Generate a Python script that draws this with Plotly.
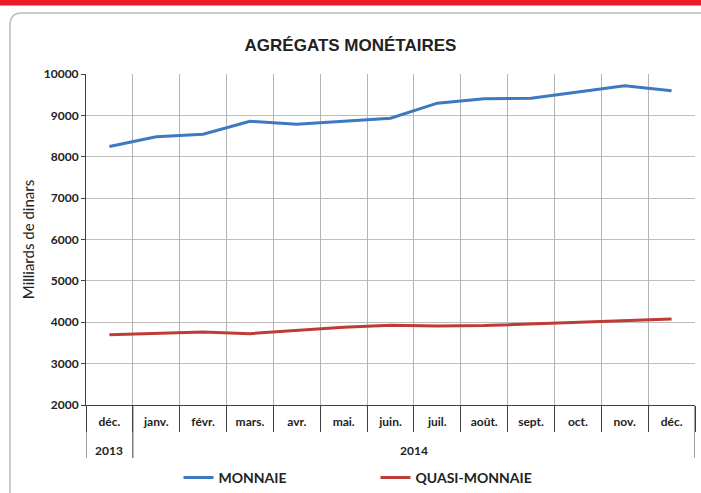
import plotly.graph_objects as go

months = ["déc.", "janv.", "févr.", "mars.", "avr.", "mai.", "juin.", "juil.", "août.", "sept.", "oct.", "nov.", "déc."]
years = ["2013", "2014"]
monnaie = [8250, 8485, 8545, 8855, 8785, 8850, 8930, 9295, 9400, 9415, 9565, 9715, 9595]
quasi_monnaie = [3700, 3730, 3765, 3725, 3800, 3880, 3925, 3910, 3920, 3960, 3995, 4035, 4080]

x = list(range(len(months)))
L, R, T, B = 86, 695, 74, 405
W, H = 701, 493

def px(xp):
    return (xp - L) / (R - L)

def py(yp):
    return (B - yp) / (B - T)

fig = go.Figure()
fig.add_trace(go.Scatter(x=x, y=monnaie, mode="lines", name="MONNAIE",
                         line=dict(color="#3D78C1", width=3)))
fig.add_trace(go.Scatter(x=x, y=quasi_monnaie, mode="lines", name="QUASI-MONNAIE",
                         line=dict(color="#BF3B36", width=3)))
# invisible helper trace so the boundary axis (x2) is drawn
fig.add_trace(go.Scatter(x=[-0.5, 12.5], y=[None, None], xaxis="x2", yaxis="y",
                         showlegend=False, hoverinfo="skip", mode="lines"))

tickfont = dict(family="Lato, Open Sans, sans-serif", size=12, color="#222222", weight="bold")
legfont = dict(family="Lato, Open Sans, sans-serif", size=14, color="#222222", weight="bold")

fig.update_layout(
    width=W, height=H,
    margin=dict(l=L, r=W - R, t=T, b=H - B, autoexpand=False),
    paper_bgcolor="white", plot_bgcolor="white",
    title=dict(text="AGRÉGATS MONÉTAIRES", x=0.5, xanchor="center", xref="container",
               y=1 - 45 / H, yanchor="middle", yref="container",
               font=dict(family="Liberation Sans, Arial, sans-serif", size=17, color="#222222", weight="bold")),
    showlegend=True,
    legend=dict(orientation="h", x=0.5 - 15 / (R - L), xanchor="center", y=py(478), yanchor="middle",
                font=legfont, entrywidth=152, itemwidth=30, bgcolor="rgba(0,0,0,0)",
                tracegroupgap=0),
    xaxis=dict(range=[-0.5, 12.5], tickvals=x, ticktext=months, ticks="", showgrid=False,
               showline=True, linecolor="#404040", linewidth=1, tickfont=tickfont,
               ticklabelstandoff=6, zeroline=False, automargin=False),
    xaxis2=dict(overlaying="x", anchor="y", side="bottom", range=[-0.5, 12.5],
                tickmode="array", tickvals=[i - 0.5 for i in range(len(months) + 1)],
                ticktext=["" for _ in range(len(months) + 1)],
                ticks="outside", ticklen=26, tickcolor="#404040", tickwidth=1,
                showgrid=True, gridcolor="#B5B5B5", gridwidth=1, showline=False, zeroline=False,
                automargin=False),
    yaxis=dict(range=[2000, 10000], dtick=1000, tickformat="d", showgrid=True, gridcolor="#BDBDBD", gridwidth=1,
               showline=True, linecolor="#404040", linewidth=1, ticks="outside", ticklen=4,
               tickcolor="#404040", tickfont=tickfont, zeroline=False, automargin=False,
               title=dict(text="Milliards de dinars", standoff=5,
                          font=dict(family="Lato, Open Sans, sans-serif", size=15, color="#222222"))),
)

# Year row
fig.add_annotation(x=0, y=py(450), xref="x", yref="paper", text=years[0], showarrow=False,
                   font=tickfont, yanchor="middle")
fig.add_annotation(x=6.5, y=py(450), xref="x", yref="paper", text=years[1], showarrow=False,
                   font=tickfont, yanchor="middle")
for bx in [-0.5, 0.5, 12.5]:
    fig.add_shape(type="line", x0=bx, x1=bx, xref="x", yref="paper", y0=0, y1=py(458),
                  line=dict(color="#404040", width=1))

# Chart frame with rounded corner
fx0, fy0, fx1, fy1, r = px(10), py(13), px(730), py(520), 12
path = (f"M {fx0},{fy1} L {fx0},{py(13 + r)} Q {fx0},{fy0} {px(10 + r)},{fy0} "
        f"L {fx1},{fy0}")
fig.add_shape(type="path", path=path, xref="paper", yref="paper",
              line=dict(color="#BBBBBB", width=1.5), layer="below")
# red bar at top
fig.add_shape(type="rect", xref="paper", yref="paper", x0=px(-5), x1=px(710), y0=py(5.5), y1=py(-5),
              fillcolor="#EC1C24", line=dict(width=0))

fig.write_html("out.html", config={"displayModeBar": False},
               post_script="document.body.style.margin='0';")
